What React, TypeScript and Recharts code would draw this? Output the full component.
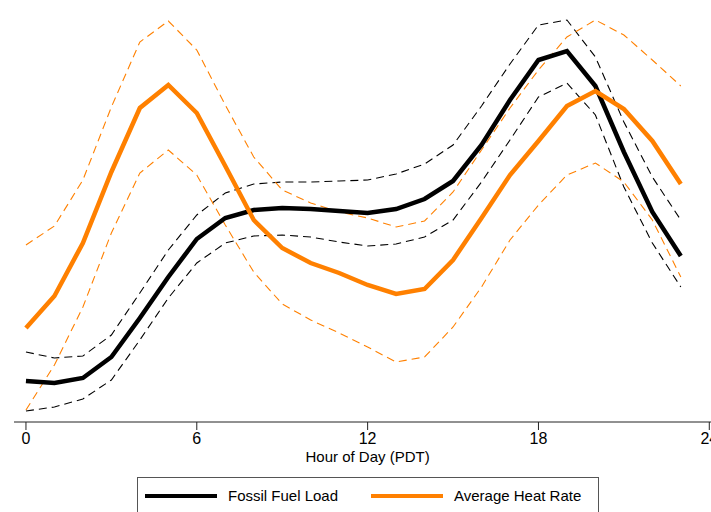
import { LineChart, Line, XAxis, YAxis, Legend } from "recharts";

const hours = [0, 1, 2, 3, 4, 5, 6, 7, 8, 9, 10, 11, 12, 13, 14, 15, 16, 17, 18, 19, 20, 21, 22, 23];
const xTicks = [0, 6, 12, 18, 24];

// relative units (no y scale shown in the original)
const fossilLoad = [41, 39, 44, 65, 104, 145, 183, 204, 212, 214, 213, 211, 209, 213, 223, 241, 277, 322, 362, 371, 336, 270, 210, 166];
const fossilUpper = [70, 64, 66, 87, 129, 172, 207, 229, 238, 240, 240, 241, 242, 248, 258, 277, 316, 358, 397, 402, 365, 300, 245, 202];
const fossilLower = [11, 15, 23, 42, 82, 124, 159, 179, 186, 187, 185, 180, 176, 178, 185, 202, 240, 282, 325, 339, 307, 235, 179, 135];
const heatRate = [94, 126, 179, 250, 314, 337, 309, 256, 202, 174, 159, 149, 137, 128, 133, 162, 204, 247, 281, 316, 331, 313, 281, 238];
const heatUpper = [177, 196, 242, 315, 380, 401, 372, 317, 265, 232, 219, 210, 204, 195, 201, 230, 272, 314, 352, 385, 402, 387, 362, 336];
const heatLower = [12, 57, 115, 189, 249, 272, 247, 197, 150, 118, 102, 89, 75, 60, 65, 95, 135, 182, 217, 247, 259, 240, 202, 145];

const data = hours.map((h, i) => ({
  hour: h,
  load: fossilLoad[i],
  loadHi: fossilUpper[i],
  loadLo: fossilLower[i],
  heat: heatRate[i],
  heatHi: heatUpper[i],
  heatLo: heatLower[i],
}));

const X_DOMAIN: [number, number] = [-0.42, 24.06];
const ORANGE = "#ff8000";
const FONT = "'Liberation Sans', Arial, sans-serif";

function AxisTitle(props: any) {
  const vb = props.viewBox || {};
  const x = vb.x + ((12 - X_DOMAIN[0]) / (X_DOMAIN[1] - X_DOMAIN[0])) * vb.width;
  return (
    <text x={x} y={vb.y + 40} textAnchor="middle" fontSize={15} fontFamily={FONT} fill="#000">
      Hour of Day (PDT)
    </text>
  );
}

function LegendBox() {
  const item = (color: string, label: string, left: number) => (
    <div style={{ position: "absolute", left, top: 9, display: "flex", alignItems: "center" }}>
      <div style={{ width: 72, height: 4, background: color }} />
      <span style={{ marginLeft: 11, fontSize: 15, fontFamily: FONT, color: "#000", lineHeight: "17px" }}>{label}</span>
    </div>
  );
  return (
    <div style={{ position: "relative", width: 460, height: 45, border: "1px solid #555", background: "#fff" }}>
      {item("#000", "Fossil Fuel Load", 7)}
      {item(ORANGE, "Average Heat Rate", 233)}
    </div>
  );
}

export default function App() {
  return (
    <div>
      <style>{"body{margin:0;overflow:hidden}"}</style>
      <LineChart width={711} height={512} data={data} margin={{ top: 7, right: 0, bottom: 40, left: 14 }}>
        <XAxis
          dataKey="hour"
          type="number"
          domain={X_DOMAIN}
          allowDataOverflow
          ticks={xTicks}
          interval={0}
          tickSize={8}
          tickMargin={3}
          height={50}
          stroke="#222"
          tick={{ fill: "#000", fontSize: 16, fontFamily: FONT }}
          label={{ content: AxisTitle }}
        />
        <YAxis domain={[0, 415]} width={0} tick={false} tickLine={false} stroke="#222" allowDataOverflow />
        <Legend
          layout="horizontal"
          verticalAlign="middle"
          align="center"
          wrapperStyle={{ left: 137, top: 477, width: 462, height: 47 }}
          content={() => <LegendBox />}
        />
        <Line dataKey="loadHi" stroke="#000" strokeWidth={1.1} strokeDasharray="8 5" dot={false} isAnimationActive={false} legendType="none" />
        <Line dataKey="loadLo" stroke="#000" strokeWidth={1.1} strokeDasharray="8 5" dot={false} isAnimationActive={false} legendType="none" />
        <Line dataKey="heatHi" stroke={ORANGE} strokeWidth={1.1} strokeDasharray="8 5" dot={false} isAnimationActive={false} legendType="none" />
        <Line dataKey="heatLo" stroke={ORANGE} strokeWidth={1.1} strokeDasharray="8 5" dot={false} isAnimationActive={false} legendType="none" />
        <Line dataKey="load" name="Fossil Fuel Load" stroke="#000" strokeWidth={4.5} dot={false} isAnimationActive={false} />
        <Line dataKey="heat" name="Average Heat Rate" stroke={ORANGE} strokeWidth={4.5} dot={false} isAnimationActive={false} />
      </LineChart>
    </div>
  );
}
